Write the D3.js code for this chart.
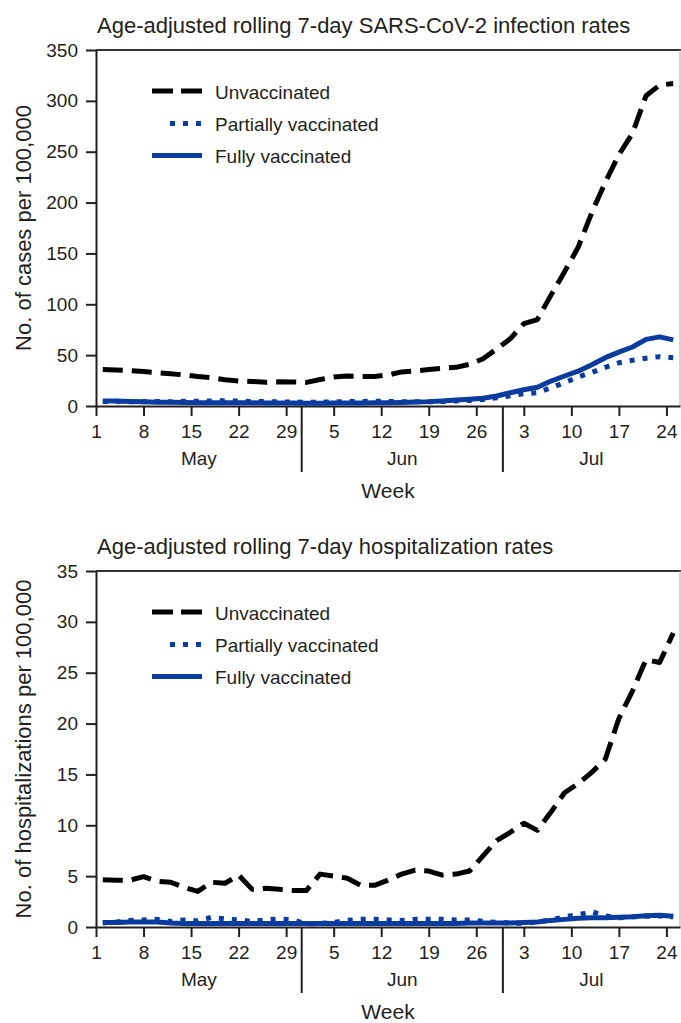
<!DOCTYPE html>
<html><head><meta charset="utf-8">
<script src="https://cdn.jsdelivr.net/npm/d3@7"></script>
<style>
html,body{margin:0;padding:0;background:#fff;}
svg{display:block;font-family:"Liberation Sans", Arial, sans-serif;}
</style></head><body>
<svg id="chart" width="681" height="1023"></svg>
<script>
// ---- data ----
const dates = [
  "2021-05-02","2021-05-04","2021-05-06","2021-05-08","2021-05-10","2021-05-12","2021-05-14","2021-05-16",
  "2021-05-18","2021-05-20","2021-05-22","2021-05-24","2021-05-26","2021-05-28","2021-05-30",
  "2021-06-01","2021-06-03","2021-06-05","2021-06-07","2021-06-09","2021-06-11","2021-06-13","2021-06-15",
  "2021-06-17","2021-06-19","2021-06-21","2021-06-23","2021-06-25","2021-06-27","2021-06-29",
  "2021-07-01","2021-07-03","2021-07-05","2021-07-07","2021-07-09","2021-07-11","2021-07-13","2021-07-15",
  "2021-07-17","2021-07-19","2021-07-21","2021-07-23","2021-07-25"
];
const seriesNames = ["Unvaccinated", "Partially vaccinated", "Fully vaccinated"];

const casesUnvaccinated = [36,35.3,34.8,34,32.8,31.8,30.5,29,27.8,25.8,24.6,24.2,23.3,23.8,23.6,
  23.2,26,28.6,29.5,29,29,30.5,33.5,34.5,35.8,37,38,41,46.5,56,
  66,81,85,109,132,156,190,220,247,268,305,315.5,317];
const casesPartially = [4.5,4.6,4.2,4.3,4.4,4.2,4.6,4.7,5,5.2,4.8,4.5,4.3,4.1,3.9,
  3.7,3.8,4,4.3,4.5,4.6,4.5,4.2,4.1,4.2,4.5,5,5.5,6.3,8,
  10,12,13,18,23,28.5,33,38,42.5,45,47,48.5,47.5];
const casesFully = [5,4.8,4.5,4.1,3.8,3.6,3.4,3.3,3.3,3.2,3.2,3.1,3,3,2.9,
  2.8,2.8,2.9,3,3,3.1,3.2,3.5,3.9,4.3,5,5.8,6.6,7.6,9.8,
  13,16,18.5,24.5,29.5,34.2,40.5,47.5,53,58,65.5,68,65];

const hospUnvaccinated = [4.65,4.6,4.6,4.95,4.5,4.4,3.9,3.5,4.4,4.3,5.1,3.7,3.8,3.7,3.6,
  3.6,5.2,5.0,4.8,4.1,4.1,4.6,5.2,5.6,5.5,5.1,5.2,5.5,7.0,8.5,
  9.3,10.2,9.5,11.3,13.2,14.1,15.2,16.5,20.5,23.2,26.3,26,28.9];
const hospPartially = [0.4,0.5,0.65,0.7,0.75,0.55,0.7,0.6,0.95,0.8,0.7,0.55,0.7,0.8,0.7,
  0.3,0.35,0.45,0.65,0.75,0.75,0.7,0.65,0.75,0.75,0.75,0.7,0.7,0.55,0.45,
  0.4,0.35,0.5,0.7,1.0,1.2,1.5,1.1,0.9,1.0,1.05,1.1,1.0];
const hospFully = [0.45,0.45,0.5,0.5,0.5,0.4,0.35,0.35,0.35,0.35,0.35,0.35,0.35,0.35,0.35,
  0.35,0.35,0.35,0.35,0.35,0.35,0.35,0.35,0.35,0.35,0.35,0.35,0.4,0.4,0.4,
  0.4,0.45,0.5,0.65,0.75,0.85,0.9,0.9,0.95,1.0,1.1,1.15,1.05];

const casesTicks = [0,50,100,150,200,250,300,350];
const hospTicks = [0,5,10,15,20,25,30,35];
const weekTicks = ["2021-05-01","2021-05-08","2021-05-15","2021-05-22","2021-05-29",
  "2021-06-05","2021-06-12","2021-06-19","2021-06-26",
  "2021-07-03","2021-07-10","2021-07-17","2021-07-24"];
const monthLabels = ["May","Jun","Jul"];
const monthBounds = ["2021-05-01T00:00","2021-05-31T07:00","2021-06-29T22:00","2021-07-26T00:00"];

// ---- drawing ----
const parse = d3.utcParse("%Y-%m-%d");
const parseT = d3.utcParse("%Y-%m-%dT%H:%M");
const INK = "#231f20", BLUE = "#0a3b9f";
const svg = d3.select("#chart");
const PLOT_L = 96, PLOT_R = 680, PLOT_H = 356;
const x = d3.scaleUtc().domain([parse("2021-05-01"), parse("2021-07-26")]).range([PLOT_L, PLOT_R]);

const styles = [
  {color: "#000", dash: "20,9"},
  {color: BLUE, dash: "5,8"},
  {color: BLUE, dash: null}
];

function panel(top, yMax, yTicks, title, yTitle, seriesVals) {
  const g = svg.append("g");
  const bottom = top + PLOT_H;
  const y = d3.scaleLinear().domain([0, yMax]).range([bottom, top]);

  // frame
  g.append("line").attr("x1", PLOT_L).attr("x2", 681).attr("y1", top).attr("y2", top)
    .attr("stroke", "#333").attr("stroke-width", 2);
  g.append("line").attr("x1", PLOT_R).attr("x2", PLOT_R).attr("y1", top).attr("y2", bottom)
    .attr("stroke", "#aaa").attr("stroke-width", 1);

  // y axis
  const ya = g.append("g").attr("transform", `translate(${PLOT_L},0)`)
    .call(d3.axisLeft(y).tickValues(yTicks).tickSize(10).tickSizeOuter(0).tickPadding(8));
  // x axis
  const xa = g.append("g").attr("transform", `translate(0,${bottom})`)
    .call(d3.axisBottom(x).tickValues(weekTicks.map(parse)).tickFormat(d3.utcFormat("%-d"))
      .tickSize(10).tickSizeOuter(0).tickPadding(9));
  [ya, xa].forEach(a => {
    a.selectAll("path.domain").attr("stroke", INK).attr("stroke-width", 2);
    a.selectAll(".tick line").attr("stroke", INK).attr("stroke-width", 2);
    a.selectAll(".tick text").attr("fill", INK).style("font-size", "19px")
      .style("font-family", '"Liberation Sans", Arial, sans-serif');
  });

  // month dividers & labels
  const mb = monthBounds.map(parseT);
  [mb[1], mb[2]].forEach(d => {
    g.append("line").attr("x1", x(d)).attr("x2", x(d)).attr("y1", bottom).attr("y2", bottom + 66)
      .attr("stroke", INK).attr("stroke-width", 2);
  });
  monthLabels.forEach((m, i) => {
    g.append("text").attr("x", (x(mb[i]) + x(mb[i + 1])) / 2).attr("y", bottom + 59)
      .attr("text-anchor", "middle").attr("fill", INK).style("font-size", "19px").text(m);
  });
  g.append("text").attr("x", (PLOT_L + PLOT_R) / 2).attr("y", bottom + 92)
    .attr("text-anchor", "middle").attr("fill", INK).style("font-size", "21px").text("Week");

  // titles
  g.append("text").attr("x", 97).attr("y", top - 17).attr("fill", INK)
    .style("font-size", "22px").text(title);
  g.append("text").attr("transform", `translate(31,${top + PLOT_H / 2}) rotate(-90)`)
    .attr("text-anchor", "middle").attr("fill", INK).style("font-size", "22px").text(yTitle);

  // lines
  const pts = dates.map(parse);
  const line = d3.line().x((d, i) => x(pts[i])).y(d => y(d));
  [2, 1, 0].forEach(k => {
    const p = g.append("path").datum(seriesVals[k]).attr("d", line)
      .attr("fill", "none").attr("stroke", styles[k].color).attr("stroke-width", 5)
      .attr("stroke-linejoin", "round").attr("stroke-linecap", "butt");
    if (styles[k].dash) p.attr("stroke-dasharray", styles[k].dash);
  });

  // legend
  const ly = [top + 41, top + 73.5, top + 105.5];
  const lx0 = [152, 170, 152];
  const ldash = ["21,8", "5,8", null];
  seriesNames.forEach((name, k) => {
    const l = g.append("line").attr("x1", lx0[k]).attr("x2", 202).attr("y1", ly[k]).attr("y2", ly[k])
      .attr("stroke", styles[k].color).attr("stroke-width", 5);
    if (ldash[k]) l.attr("stroke-dasharray", ldash[k]);
    g.append("text").attr("x", 215).attr("y", ly[k] + 7.5).attr("fill", INK)
      .style("font-size", "19px").text(name);
  });
}

panel(50, 350, casesTicks, "Age-adjusted rolling 7-day SARS-CoV-2 infection rates",
  "No. of cases per 100,000", [casesUnvaccinated, casesPartially, casesFully]);
panel(571, 35, hospTicks, "Age-adjusted rolling 7-day hospitalization rates",
  "No. of hospitalizations per 100,000", [hospUnvaccinated, hospPartially, hospFully]);
</script>
</body></html>
